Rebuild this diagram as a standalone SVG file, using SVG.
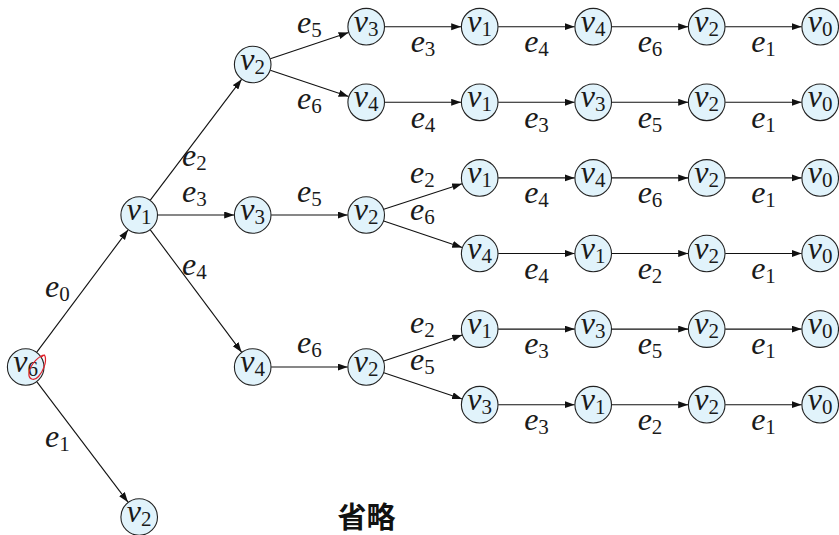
<svg xmlns="http://www.w3.org/2000/svg" width="839" height="535" viewBox="0 0 839 535">
<style>
.node circle{fill:#e1f3fb;stroke:#222;stroke-width:1.1}
text{font-family:"Liberation Serif","Times New Roman",serif;fill:#1a1a1a}
.nt{font-size:32px;text-anchor:middle}
.el{font-size:32px}
.mid{text-anchor:middle}
.m{font-style:italic}
.s{font-size:21px}
.edges line{stroke:#111;stroke-width:1.1;marker-end:url(#ah)}
.cjk{font-family:"Noto Sans CJK SC","Noto Sans CJK JP",sans-serif;font-size:29px;font-weight:700;fill:#111}
</style>
<defs>
<marker id="ah" markerUnits="userSpaceOnUse" markerWidth="11" markerHeight="8" refX="10" refY="3.5" orient="auto">
<path d="M0,0 L10,3.5 L0,7 z" fill="#111"/>
</marker>
</defs>
<g id="connectors" class="edges">
<line x1="36.8" y1="352.2" x2="128.1" y2="229.8"/>
<line x1="36.9" y1="381.8" x2="128.0" y2="502.2"/>
<line x1="150.3" y1="200.2" x2="241.6" y2="79.3"/>
<line x1="157.7" y1="215" x2="234.2" y2="215"/>
<line x1="150.3" y1="229.8" x2="241.6" y2="352.2"/>
<line x1="270.3" y1="58.7" x2="348.6" y2="32.5"/>
<line x1="270.3" y1="70.3" x2="348.6" y2="96.5"/>
<line x1="271.2" y1="215" x2="347.7" y2="215"/>
<line x1="383.8" y1="209.2" x2="462.1" y2="183.7"/>
<line x1="383.7" y1="220.9" x2="462.2" y2="247.6"/>
<line x1="271.2" y1="367" x2="347.7" y2="367"/>
<line x1="383.7" y1="361.1" x2="462.2" y2="335.0"/>
<line x1="383.8" y1="372.8" x2="462.1" y2="398.9"/>
<line x1="384.7" y1="26.7" x2="461.2" y2="26.7"/>
<line x1="498.2" y1="26.7" x2="574.7" y2="26.7"/>
<line x1="611.7" y1="26.7" x2="688.2" y2="26.7"/>
<line x1="725.2" y1="26.7" x2="801.7" y2="26.7"/>
<line x1="384.7" y1="102.3" x2="461.2" y2="102.3"/>
<line x1="498.2" y1="102.3" x2="574.7" y2="102.3"/>
<line x1="611.7" y1="102.3" x2="688.2" y2="102.3"/>
<line x1="725.2" y1="102.3" x2="801.7" y2="102.3"/>
<line x1="498.2" y1="177.9" x2="574.7" y2="177.9"/>
<line x1="611.7" y1="177.9" x2="688.2" y2="177.9"/>
<line x1="725.2" y1="177.9" x2="801.7" y2="177.9"/>
<line x1="498.2" y1="253.5" x2="574.7" y2="253.5"/>
<line x1="611.7" y1="253.5" x2="688.2" y2="253.5"/>
<line x1="725.2" y1="253.5" x2="801.7" y2="253.5"/>
<line x1="498.2" y1="329.1" x2="574.7" y2="329.1"/>
<line x1="611.7" y1="329.1" x2="688.2" y2="329.1"/>
<line x1="725.2" y1="329.1" x2="801.7" y2="329.1"/>
<line x1="498.2" y1="404.7" x2="574.7" y2="404.7"/>
<line x1="611.7" y1="404.7" x2="688.2" y2="404.7"/>
<line x1="725.2" y1="404.7" x2="801.7" y2="404.7"/>
</g>
<g id="edge-labels">
<text class="el" x="45" y="297"><tspan class="m">e</tspan><tspan class="s" dy="4">0</tspan></text>
<text class="el" x="45" y="447"><tspan class="m">e</tspan><tspan class="s" dy="4">1</tspan></text>
<text class="el" x="182" y="166"><tspan class="m">e</tspan><tspan class="s" dy="4">2</tspan></text>
<text class="el" x="182" y="202"><tspan class="m">e</tspan><tspan class="s" dy="4">3</tspan></text>
<text class="el" x="182" y="275"><tspan class="m">e</tspan><tspan class="s" dy="4">4</tspan></text>
<text class="el" x="297" y="33"><tspan class="m">e</tspan><tspan class="s" dy="4">5</tspan></text>
<text class="el" x="297" y="109"><tspan class="m">e</tspan><tspan class="s" dy="4">6</tspan></text>
<text class="el" x="297" y="202"><tspan class="m">e</tspan><tspan class="s" dy="4">5</tspan></text>
<text class="el" x="297" y="353"><tspan class="m">e</tspan><tspan class="s" dy="4">6</tspan></text>
<text class="el" x="410" y="183"><tspan class="m">e</tspan><tspan class="s" dy="4">2</tspan></text>
<text class="el" x="410" y="220"><tspan class="m">e</tspan><tspan class="s" dy="4">6</tspan></text>
<text class="el" x="410" y="333"><tspan class="m">e</tspan><tspan class="s" dy="4">2</tspan></text>
<text class="el" x="410" y="370"><tspan class="m">e</tspan><tspan class="s" dy="4">5</tspan></text>
<text class="el mid" x="423" y="52"><tspan class="m">e</tspan><tspan class="s" dy="4">3</tspan></text>
<text class="el mid" x="536.5" y="52"><tspan class="m">e</tspan><tspan class="s" dy="4">4</tspan></text>
<text class="el mid" x="650" y="52"><tspan class="m">e</tspan><tspan class="s" dy="4">6</tspan></text>
<text class="el mid" x="763.5" y="52"><tspan class="m">e</tspan><tspan class="s" dy="4">1</tspan></text>
<text class="el mid" x="423" y="127.5"><tspan class="m">e</tspan><tspan class="s" dy="4">4</tspan></text>
<text class="el mid" x="536.5" y="127.5"><tspan class="m">e</tspan><tspan class="s" dy="4">3</tspan></text>
<text class="el mid" x="650" y="127.5"><tspan class="m">e</tspan><tspan class="s" dy="4">5</tspan></text>
<text class="el mid" x="763.5" y="127.5"><tspan class="m">e</tspan><tspan class="s" dy="4">1</tspan></text>
<text class="el mid" x="536.5" y="203"><tspan class="m">e</tspan><tspan class="s" dy="4">4</tspan></text>
<text class="el mid" x="650" y="203"><tspan class="m">e</tspan><tspan class="s" dy="4">6</tspan></text>
<text class="el mid" x="763.5" y="203"><tspan class="m">e</tspan><tspan class="s" dy="4">1</tspan></text>
<text class="el mid" x="536.5" y="278.5"><tspan class="m">e</tspan><tspan class="s" dy="4">4</tspan></text>
<text class="el mid" x="650" y="278.5"><tspan class="m">e</tspan><tspan class="s" dy="4">2</tspan></text>
<text class="el mid" x="763.5" y="278.5"><tspan class="m">e</tspan><tspan class="s" dy="4">1</tspan></text>
<text class="el mid" x="536.5" y="354"><tspan class="m">e</tspan><tspan class="s" dy="4">3</tspan></text>
<text class="el mid" x="650" y="354"><tspan class="m">e</tspan><tspan class="s" dy="4">5</tspan></text>
<text class="el mid" x="763.5" y="354"><tspan class="m">e</tspan><tspan class="s" dy="4">1</tspan></text>
<text class="el mid" x="536.5" y="429.5"><tspan class="m">e</tspan><tspan class="s" dy="4">3</tspan></text>
<text class="el mid" x="650" y="429.5"><tspan class="m">e</tspan><tspan class="s" dy="4">2</tspan></text>
<text class="el mid" x="763.5" y="429.5"><tspan class="m">e</tspan><tspan class="s" dy="4">1</tspan></text>
</g>
<g id="n-root-v6" class="node"><circle cx="25.7" cy="367" r="18.3"/><text class="nt" x="25.7" y="372"><tspan class="m">v</tspan><tspan class="s" dy="4">6</tspan></text><path d="M45,355 C40,354.5 30.5,364 29,372.5 C28,379.5 34,381.5 38.5,376.5 C43,371.5 47,362 45,356 C44,354.5 42,356 41,357.5" fill="none" stroke="#e0202a" stroke-width="1.2"/></g>
<g id="n-v1" class="node"><circle cx="139.2" cy="215" r="18.3"/><text class="nt" x="139.2" y="220"><tspan class="m">v</tspan><tspan class="s" dy="4">1</tspan></text></g>
<g id="n-v2-top" class="node"><circle cx="252.7" cy="64.5" r="18.3"/><text class="nt" x="252.7" y="69.5"><tspan class="m">v</tspan><tspan class="s" dy="4">2</tspan></text></g>
<g id="n-v3-mid" class="node"><circle cx="252.7" cy="215" r="18.3"/><text class="nt" x="252.7" y="220"><tspan class="m">v</tspan><tspan class="s" dy="4">3</tspan></text></g>
<g id="n-v4-low" class="node"><circle cx="252.7" cy="367" r="18.3"/><text class="nt" x="252.7" y="372"><tspan class="m">v</tspan><tspan class="s" dy="4">4</tspan></text></g>
<g id="n-v2-leaf" class="node"><circle cx="139.2" cy="517" r="18.3"/><text class="nt" x="139.2" y="522"><tspan class="m">v</tspan><tspan class="s" dy="4">2</tspan></text></g>
<g id="n-v2-mid" class="node"><circle cx="366.2" cy="215" r="18.3"/><text class="nt" x="366.2" y="220"><tspan class="m">v</tspan><tspan class="s" dy="4">2</tspan></text></g>
<g id="n-v2-low" class="node"><circle cx="366.2" cy="367" r="18.3"/><text class="nt" x="366.2" y="372"><tspan class="m">v</tspan><tspan class="s" dy="4">2</tspan></text></g>
<g id="n-r1-v3" class="node"><circle cx="366.2" cy="26.7" r="18.3"/><text class="nt" x="366.2" y="31.7"><tspan class="m">v</tspan><tspan class="s" dy="4">3</tspan></text></g>
<g id="n-r1-v1" class="node"><circle cx="479.7" cy="26.7" r="18.3"/><text class="nt" x="479.7" y="31.7"><tspan class="m">v</tspan><tspan class="s" dy="4">1</tspan></text></g>
<g id="n-r1-v4" class="node"><circle cx="593.2" cy="26.7" r="18.3"/><text class="nt" x="593.2" y="31.7"><tspan class="m">v</tspan><tspan class="s" dy="4">4</tspan></text></g>
<g id="n-r1-v2" class="node"><circle cx="706.7" cy="26.7" r="18.3"/><text class="nt" x="706.7" y="31.7"><tspan class="m">v</tspan><tspan class="s" dy="4">2</tspan></text></g>
<g id="n-r1-v0" class="node"><circle cx="820.2" cy="26.7" r="18.3"/><text class="nt" x="820.2" y="31.7"><tspan class="m">v</tspan><tspan class="s" dy="4">0</tspan></text></g>
<g id="n-r2-v4" class="node"><circle cx="366.2" cy="102.3" r="18.3"/><text class="nt" x="366.2" y="107.3"><tspan class="m">v</tspan><tspan class="s" dy="4">4</tspan></text></g>
<g id="n-r2-v1" class="node"><circle cx="479.7" cy="102.3" r="18.3"/><text class="nt" x="479.7" y="107.3"><tspan class="m">v</tspan><tspan class="s" dy="4">1</tspan></text></g>
<g id="n-r2-v3" class="node"><circle cx="593.2" cy="102.3" r="18.3"/><text class="nt" x="593.2" y="107.3"><tspan class="m">v</tspan><tspan class="s" dy="4">3</tspan></text></g>
<g id="n-r2-v2" class="node"><circle cx="706.7" cy="102.3" r="18.3"/><text class="nt" x="706.7" y="107.3"><tspan class="m">v</tspan><tspan class="s" dy="4">2</tspan></text></g>
<g id="n-r2-v0" class="node"><circle cx="820.2" cy="102.3" r="18.3"/><text class="nt" x="820.2" y="107.3"><tspan class="m">v</tspan><tspan class="s" dy="4">0</tspan></text></g>
<g id="n-r3-v1" class="node"><circle cx="479.7" cy="177.9" r="18.3"/><text class="nt" x="479.7" y="182.9"><tspan class="m">v</tspan><tspan class="s" dy="4">1</tspan></text></g>
<g id="n-r3-v4" class="node"><circle cx="593.2" cy="177.9" r="18.3"/><text class="nt" x="593.2" y="182.9"><tspan class="m">v</tspan><tspan class="s" dy="4">4</tspan></text></g>
<g id="n-r3-v2" class="node"><circle cx="706.7" cy="177.9" r="18.3"/><text class="nt" x="706.7" y="182.9"><tspan class="m">v</tspan><tspan class="s" dy="4">2</tspan></text></g>
<g id="n-r3-v0" class="node"><circle cx="820.2" cy="177.9" r="18.3"/><text class="nt" x="820.2" y="182.9"><tspan class="m">v</tspan><tspan class="s" dy="4">0</tspan></text></g>
<g id="n-r4-v4" class="node"><circle cx="479.7" cy="253.5" r="18.3"/><text class="nt" x="479.7" y="258.5"><tspan class="m">v</tspan><tspan class="s" dy="4">4</tspan></text></g>
<g id="n-r4-v1" class="node"><circle cx="593.2" cy="253.5" r="18.3"/><text class="nt" x="593.2" y="258.5"><tspan class="m">v</tspan><tspan class="s" dy="4">1</tspan></text></g>
<g id="n-r4-v2" class="node"><circle cx="706.7" cy="253.5" r="18.3"/><text class="nt" x="706.7" y="258.5"><tspan class="m">v</tspan><tspan class="s" dy="4">2</tspan></text></g>
<g id="n-r4-v0" class="node"><circle cx="820.2" cy="253.5" r="18.3"/><text class="nt" x="820.2" y="258.5"><tspan class="m">v</tspan><tspan class="s" dy="4">0</tspan></text></g>
<g id="n-r5-v1" class="node"><circle cx="479.7" cy="329.1" r="18.3"/><text class="nt" x="479.7" y="334.1"><tspan class="m">v</tspan><tspan class="s" dy="4">1</tspan></text></g>
<g id="n-r5-v3" class="node"><circle cx="593.2" cy="329.1" r="18.3"/><text class="nt" x="593.2" y="334.1"><tspan class="m">v</tspan><tspan class="s" dy="4">3</tspan></text></g>
<g id="n-r5-v2" class="node"><circle cx="706.7" cy="329.1" r="18.3"/><text class="nt" x="706.7" y="334.1"><tspan class="m">v</tspan><tspan class="s" dy="4">2</tspan></text></g>
<g id="n-r5-v0" class="node"><circle cx="820.2" cy="329.1" r="18.3"/><text class="nt" x="820.2" y="334.1"><tspan class="m">v</tspan><tspan class="s" dy="4">0</tspan></text></g>
<g id="n-r6-v3" class="node"><circle cx="479.7" cy="404.7" r="18.3"/><text class="nt" x="479.7" y="409.7"><tspan class="m">v</tspan><tspan class="s" dy="4">3</tspan></text></g>
<g id="n-r6-v1" class="node"><circle cx="593.2" cy="404.7" r="18.3"/><text class="nt" x="593.2" y="409.7"><tspan class="m">v</tspan><tspan class="s" dy="4">1</tspan></text></g>
<g id="n-r6-v2" class="node"><circle cx="706.7" cy="404.7" r="18.3"/><text class="nt" x="706.7" y="409.7"><tspan class="m">v</tspan><tspan class="s" dy="4">2</tspan></text></g>
<g id="n-r6-v0" class="node"><circle cx="820.2" cy="404.7" r="18.3"/><text class="nt" x="820.2" y="409.7"><tspan class="m">v</tspan><tspan class="s" dy="4">0</tspan></text></g>
<text class="cjk" x="366.5" y="528" text-anchor="middle">省略</text>
</svg>
